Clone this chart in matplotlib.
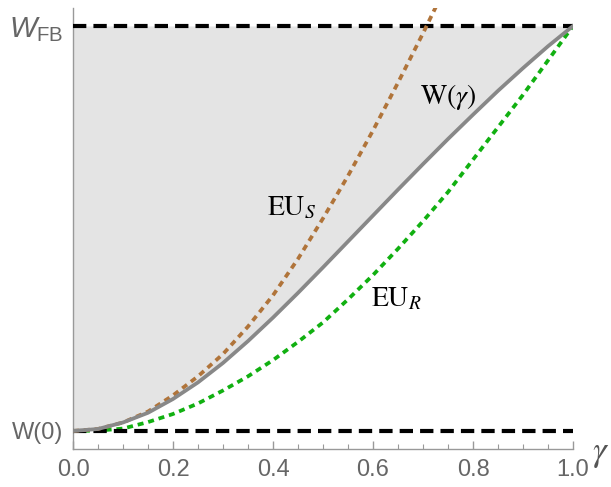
import numpy as np
import matplotlib
matplotlib.use('agg')
import matplotlib.pyplot as plt

# values (W(0)=0, W_FB=1)
gamma = [0, 0.05, 0.1, 0.15, 0.2, 0.25, 0.3, 0.35, 0.4, 0.45, 0.5,
         0.55, 0.6, 0.65, 0.7, 0.75, 0.8, 0.85, 0.9, 0.95, 1.0]
w_gamma = [0, 0.005, 0.021, 0.045, 0.079, 0.12, 0.168, 0.222, 0.28, 0.341, 0.404,
           0.468, 0.532, 0.596, 0.659, 0.721, 0.781, 0.84, 0.896, 0.95, 1.0]
eu_r = [0, 0.001, 0.006, 0.022, 0.042, 0.068, 0.1, 0.135, 0.175, 0.22, 0.268,
        0.325, 0.385, 0.45, 0.518, 0.59, 0.67, 0.75, 0.83, 0.915, 1.0]
gamma_s = [0, 0.05, 0.1, 0.15, 0.2, 0.25, 0.3, 0.35, 0.4, 0.45, 0.5,
           0.55, 0.6, 0.65, 0.7, 0.73]
eu_s = [0, 0.005, 0.021, 0.048, 0.088, 0.135, 0.19, 0.258, 0.335, 0.425, 0.525,
        0.63, 0.742, 0.86, 0.982, 1.058]
w0 = 0.0
wfb = 1.0
xticks = [0.0, 0.2, 0.4, 0.6, 0.8, 1.0]

plt.rcParams['mathtext.fontset'] = 'custom'
plt.rcParams['mathtext.rm'] = 'Liberation Sans'
plt.rcParams['mathtext.it'] = 'Liberation Sans:italic'

fig = plt.figure(figsize=(6.11, 4.87), dpi=100)
ax = fig.add_axes([73/611, 38/487, 500/611, 441/487])

ax.fill_between(gamma, w_gamma, wfb, color='#e4e4e4', lw=0, zorder=1)
ax.plot(gamma, eu_r, color='#11b011', lw=2.7, dashes=(1.6, 1.3), zorder=2)
ax.plot([0, 1], [w0, w0], color='black', lw=3, dashes=(3.2, 1.7), zorder=3)
ax.plot([0, 1], [wfb, wfb], color='black', lw=3, dashes=(3.2, 1.7), zorder=3)
ax.plot(gamma_s, eu_s, color='#b0743a', lw=2.7, dashes=(1.6, 1.3), zorder=4)
ax.plot(gamma, w_gamma, color='#888888', lw=2.7, zorder=5)

ax.set_xlim(0, 1)
ax.set_ylim(-18/405, 423/405)

for s in ['top', 'right']:
    ax.spines[s].set_visible(False)
for s in ['left', 'bottom']:
    ax.spines[s].set_color('#999999')
    ax.spines[s].set_linewidth(1.0)

ax.set_xticks(xticks)
ax.set_xticklabels([f"{t:.1f}" for t in xticks])
ax.set_xticks(np.arange(0, 1.0001, 0.05), minor=True)
ax.tick_params(axis='x', which='major', direction='in', length=6, width=1,
               color='#999999', labelsize=17, labelcolor='#666666', pad=7)
ax.tick_params(axis='x', which='minor', direction='in', length=3.5, width=0.8,
               color='#999999')
for lab in ax.get_xticklabels():
    lab.set_fontfamily('Liberation Sans')

ax.set_yticks([w0, wfb])
ax.set_yticklabels(['W(0)', r'$W_{\mathrm{FB}}$'])
ax.tick_params(axis='y', length=0, labelsize=17, labelcolor='#666666', pad=7)
for lab in ax.get_yticklabels():
    lab.set_fontfamily('Liberation Sans')
ax.get_yticklabels()[1].set_fontsize(21)

ax.text(0.75, 0.825, r'$\mathrm{W}(\gamma)$', fontsize=20, ha='center', va='center',
        math_fontfamily='stix', zorder=6)
ax.text(0.437, 0.553, r'$\mathrm{EU}_S$', fontsize=20, ha='center', va='center',
        math_fontfamily='stix', zorder=6)
ax.text(0.647, 0.328, r'$\mathrm{EU}_R$', fontsize=20, ha='center', va='center',
        math_fontfamily='stix', zorder=6)
ax.text(1.038, -0.055, r'$\gamma$', fontsize=25, ha='left', va='center',
        math_fontfamily='stix', color='#555555', clip_on=False)

fig.savefig('out.png', dpi=100)
